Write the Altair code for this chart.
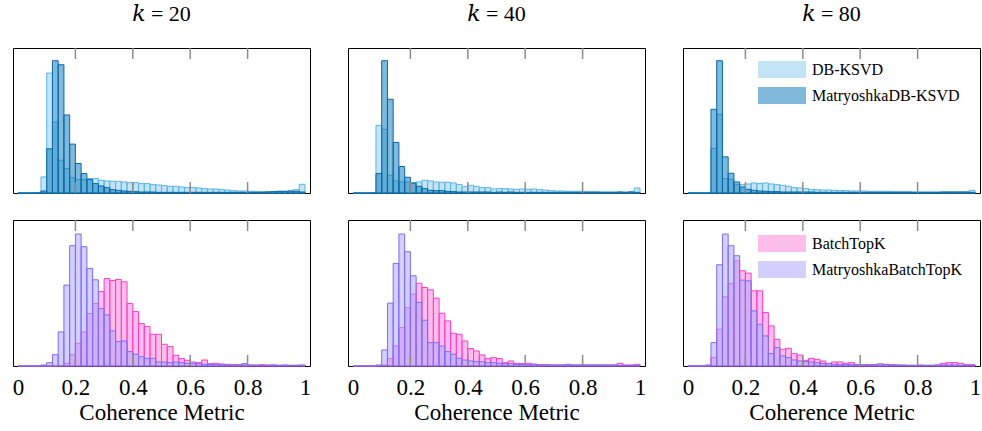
import altair as alt
import pandas as pd

SERIF = "Liberation Serif"
TITLE_FONT = "Liberation Serif, DejaVu Serif, serif"

# ---- data: bar heights per 0.02-wide bin (50 bins over [0, 1]) ----
N_BINS = 50
BIN_W = 0.02

TOP_LABELS = ["DB-KSVD", "MatryoshkaDB-KSVD"]
BOT_LABELS = ["BatchTopK", "MatryoshkaBatchTopK"]
K_VALUES = [20, 40, 80]

dbksvd_k20 = [0, 0, 0, 1, 48, 358, 212, 98, 73, 46,
              40, 40, 43, 43, 38, 36, 35, 35, 33, 31,
              31, 28, 28, 25, 24, 22, 20, 20, 18, 16,
              16, 15, 13, 12, 12, 10, 9, 7, 6, 6,
              5, 5, 4, 4, 4, 5, 5, 6, 10, 26]
mdbksvd_k20 = [0, 0, 0, 0, 6, 132, 395, 383, 233, 146,
               88, 58, 40, 28, 21, 16, 10, 8, 6, 5,
               4, 3, 3, 3, 2, 2, 2, 2, 2, 2,
               2, 2, 2, 2, 2, 2, 2, 2, 2, 2,
               2, 2, 2, 3, 4, 5, 5, 6, 5, 3]

dbksvd_k40 = [0, 0, 0, 1, 202, 190, 53, 36, 33, 33,
              30, 33, 38, 36, 33, 32, 32, 30, 25, 19,
              23, 19, 16, 16, 12, 13, 13, 12, 11, 12,
              11, 12, 10, 9, 7, 6, 6, 5, 5, 5,
              5, 4, 4, 3, 3, 3, 3, 3, 4, 15]
mdbksvd_k40 = [0, 0, 0, 0, 58, 395, 280, 151, 79, 47,
               30, 20, 13, 8, 7, 7, 5, 4, 3, 3,
               3, 3, 3, 3, 2, 3, 2, 3, 2, 2,
               2, 2, 2, 2, 2, 2, 2, 2, 2, 2,
               2, 2, 2, 2, 2, 2, 3, 2, 3, 2]

dbksvd_k80 = [0, 0, 0, 0, 133, 235, 43, 41, 25, 25,
              27, 30, 28, 30, 27, 25, 23, 20, 16, 15,
              13, 11, 10, 9, 9, 8, 7, 7, 6, 6,
              6, 5, 5, 5, 5, 5, 4, 4, 4, 3,
              3, 3, 3, 3, 3, 3, 3, 3, 3, 8]
mdbksvd_k80 = [0, 0, 0, 0, 250, 395, 108, 59, 33, 18,
               11, 8, 6, 5, 4, 4, 3, 3, 3, 3,
               3, 3, 2, 2, 2, 2, 2, 2, 2, 2,
               2, 2, 2, 2, 2, 2, 2, 2, 2, 2,
               2, 2, 2, 2, 3, 3, 3, 3, 3, 2]

btk_k20 = [0, 0, 0, 0, 0, 0, 0, 1, 8, 34,
           68, 102, 157, 187, 223, 262, 256, 259, 252, 187,
           163, 127, 118, 95, 95, 65, 58, 32, 22, 17,
           12, 10, 18, 7, 8, 6, 5, 4, 4, 5,
           3, 3, 4, 3, 3, 2, 2, 2, 2, 2]
mbtk_k20 = [0, 0, 0, 0, 3, 10, 34, 102, 242, 360,
            395, 357, 292, 258, 172, 153, 105, 73, 75, 43,
            35, 28, 23, 23, 12, 12, 10, 12, 10, 8,
            8, 7, 5, 5, 4, 4, 3, 3, 3, 7,
            3, 2, 2, 2, 3, 2, 3, 2, 2, 3]

btk_k40 = [0, 0, 0, 0, 0, 3, 22, 60, 115, 175,
           215, 248, 235, 228, 203, 158, 135, 98, 95, 75,
           52, 45, 33, 22, 25, 22, 10, 15, 8, 7,
           8, 6, 4, 4, 3, 3, 3, 3, 3, 3,
           3, 3, 3, 3, 3, 3, 8, 3, 3, 5]
mbtk_k40 = [0, 0, 0, 0, 3, 48, 188, 307, 395, 342,
            270, 190, 137, 70, 70, 60, 43, 35, 23, 18,
            15, 13, 13, 10, 10, 8, 7, 7, 5, 5,
            4, 4, 3, 3, 3, 3, 3, 5, 3, 3,
            3, 3, 3, 3, 3, 3, 2, 2, 2, 2]

btk_k80 = [0, 0, 0, 0, 25, 110, 207, 247, 315, 285,
           278, 225, 225, 160, 120, 80, 50, 53, 37, 33,
           17, 23, 20, 15, 8, 12, 12, 8, 10, 4,
           4, 4, 4, 6, 5, 4, 3, 3, 2, 2,
           3, 2, 2, 3, 8, 10, 10, 8, 4, 4]
mbtk_k80 = [0, 0, 0, 3, 70, 303, 395, 360, 330, 257,
            255, 165, 125, 90, 37, 55, 30, 25, 18, 15,
            13, 12, 10, 8, 7, 5, 4, 4, 4, 3,
            3, 3, 3, 6, 4, 3, 3, 2, 2, 2,
            2, 2, 2, 3, 3, 3, 3, 2, 2, 2]

TOP_SERIES = [(dbksvd_k20, mdbksvd_k20), (dbksvd_k40, mdbksvd_k40), (dbksvd_k80, mdbksvd_k80)]
BOT_SERIES = [(btk_k20, mbtk_k20), (btk_k40, mbtk_k40), (btk_k80, mbtk_k80)]

TICK_VALUES = [0.2, 0.4, 0.6, 0.8]
LABEL_VALUES = [0, 0.2, 0.4, 0.6, 0.8, 1]

TOP_FILLS = ["#87c9ef", "#0173b3"]
TOP_STROKES = ["#5ab4e5", "#0868ac"]
BOT_FILLS = ["#ff7bd9", "#a7a1ff"]
BOT_STROKES = ["#ff3cc8", "#7b6cf6"]

W = 297
H_TOP = 145
H_BOT = 146
TICK_LEN = 11

# legend swatch: 48 x 17 px rectangle drawn from a 17 px symbol box
SWATCH_PATH = "M-1,-1L4.647,-1L4.647,1L-1,1Z"
SWATCH_SIZE = 289


def make_df(series_pair, labels):
    rows = []
    for order, (name, vals) in enumerate(zip(labels, series_pair)):
        for i, v in enumerate(vals):
            rows.append({"start": i * BIN_W, "end": (i + 1) * BIN_W,
                         "count": v, "method": name, "ord": order})
    return pd.DataFrame(rows)


def panel(series_pair, labels, fills, strokes, height, ymax, bottom_row, legend_on, legend_y, title=None):
    df = make_df(series_pair, labels)
    if bottom_row:
        xaxis = alt.Axis(values=LABEL_VALUES, format="~g", ticks=False, domain=False, grid=False,
                         labelFont=SERIF, labelFontSize=23, labelPadding=10, labelColor="black",
                         labelFlush=False, labelOverlap=False,
                         title="Coherence Metric", titleFont=SERIF, titleFontSize=23,
                         titleFontWeight="normal", titlePadding=2, titleColor="black")
    else:
        xaxis = None
    xscale = alt.Scale(domain=[0, 1], nice=False, zero=False)

    if legend_on:
        legend = alt.Legend(title=None, orient="none", legendX=75, legendY=legend_y,
                            symbolType=SWATCH_PATH, symbolSize=SWATCH_SIZE,
                            symbolStrokeWidth=0, symbolOpacity=0.5,
                            labelFont=SERIF, labelFontSize=16, labelColor="black",
                            rowPadding=9, labelOffset=37, padding=0)
    else:
        legend = None

    bars = alt.Chart(df).mark_bar(fillOpacity=0.5, strokeWidth=1, orient="vertical").encode(
        x=alt.X("start:Q", scale=xscale, axis=xaxis),
        x2="end:Q",
        y=alt.Y("count:Q", scale=alt.Scale(domain=[0, ymax], nice=False), axis=None, stack=None),
        y2=alt.datum(0),
        fill=alt.Fill("method:N", scale=alt.Scale(domain=labels, range=fills), legend=legend),
        stroke=alt.Stroke("method:N", scale=alt.Scale(domain=labels, range=strokes), legend=None),
        order=alt.Order("ord:Q"),
    )
    tdf = pd.DataFrame({"t": TICK_VALUES})
    top_ticks = alt.Chart(tdf).mark_rule(color="#8c8c8c", strokeWidth=1.5).encode(
        x=alt.X("t:Q", scale=xscale, axis=xaxis),
        y=alt.value(0), y2=alt.value(TICK_LEN))
    bot_ticks = alt.Chart(tdf).mark_rule(color="#8c8c8c", strokeWidth=1.5).encode(
        x=alt.X("t:Q", scale=xscale, axis=xaxis),
        y=alt.value(height - TICK_LEN), y2=alt.value(height))
    ch = alt.layer(bars, top_ticks, bot_ticks).properties(width=W, height=height)
    if title is not None:
        ch = ch.properties(title=alt.Title(title, font=TITLE_FONT, fontSize=22, fontWeight="normal",
                                           color="black", offset=21, anchor="middle"))
    return ch


tops = []
bots = []
for c, k in enumerate(K_VALUES):
    legend_on = (c == len(K_VALUES) - 1)
    tops.append(panel(TOP_SERIES[c], TOP_LABELS, TOP_FILLS, TOP_STROKES, H_TOP, 433, False, legend_on, 13,
                      title=f"\U0001D458 = {k}"))
    bots.append(panel(BOT_SERIES[c], BOT_LABELS, BOT_FILLS, BOT_STROKES, H_BOT, 437, True, legend_on, 15))

chart = alt.concat(*tops, *bots, columns=3, spacing={"row": 27, "column": 38}, bounds="flush").resolve_scale(
    fill="independent", stroke="independent"
).properties(
    padding={"left": 11, "top": 2, "right": 0, "bottom": 0},
    background="white",
).configure_view(
    stroke="black", strokeWidth=1
)

chart.save("out.html", embed_options={"renderer": "svg", "actions": False})
